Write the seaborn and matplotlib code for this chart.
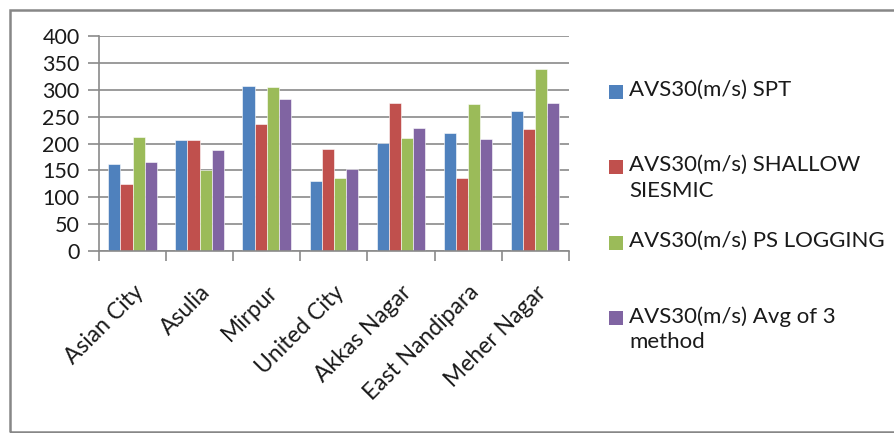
import matplotlib
matplotlib.use("Agg")
import matplotlib.pyplot as plt
from matplotlib.patches import Rectangle
import seaborn as sns
import pandas as pd
import numpy as np

categories = ["Asian City", "Asulia", "Mirpur", "United City",
              "Akkas Nagar", "East Nandipara", "Meher Nagar"]
series_names = ["AVS30(m/s) SPT", "AVS30(m/s) SHALLOW\nSIESMIC",
                "AVS30(m/s) PS LOGGING", "AVS30(m/s) Avg of 3\nmethod"]
spt = [162, 207, 307, 131, 201, 220, 260]
shallow = [125, 207, 237, 190, 275, 135, 227]
ps_logging = [212, 151, 306, 135, 210, 274, 339]
avg3 = [166, 188, 283, 152, 228, 209, 275]
colors = ["#4F81BD", "#C0504D", "#9BBB59", "#8064A2"]
y_ticks = [0, 50, 100, 150, 200, 250, 300, 350, 400]

rows = []
for name, vals in zip(series_names, [spt, shallow, ps_logging, avg3]):
    for c, v in zip(categories, vals):
        rows.append({"Location": c, "Series": name, "Value": v})
df = pd.DataFrame(rows)

sns.set_theme(style="white")
plt.rcParams["font.family"] = ["Lato", "DejaVu Sans"]

fig = plt.figure(figsize=(8.94, 4.33), dpi=100)
ax = fig.add_axes([99 / 894, 1 - 251 / 433, (568.7 - 99) / 894, (251 - 36) / 433])

sns.barplot(data=df, x="Location", y="Value", hue="Series", order=categories,
            hue_order=series_names, palette=colors, width=0.725, ax=ax,
            saturation=1, legend=False, edgecolor="white", linewidth=0.4)

ax.set_ylim(0, 400)
ax.set_xlim(-0.5, len(categories) - 0.5)
ax.set_yticks(y_ticks)
ax.set_yticklabels([str(t) for t in y_ticks], fontsize=15.5, color="#1a1a1a")
ax.set_xlabel("")
ax.set_ylabel("")
ax.yaxis.grid(True, color="#8a8a8a", linewidth=1.2)
ax.set_axisbelow(True)
for side in ["top", "right"]:
    ax.spines[side].set_visible(False)
ax.spines["left"].set_color("#8a8a8a")
ax.spines["bottom"].set_color("#8a8a8a")
ax.spines["left"].set_linewidth(1.2)
ax.spines["bottom"].set_linewidth(1.2)
ax.tick_params(axis="y", length=8, color="#8a8a8a", width=1.2, pad=6, left=True)

# x: ticks at category boundaries, labels at centers
ax.set_xticks(np.arange(-0.5, len(categories), 1.0))
ax.set_xticklabels([])
ax.set_xticks(np.arange(len(categories)), minor=True)
ax.set_xticklabels(categories, minor=True, rotation=45, ha="right",
                   rotation_mode="anchor", fontsize=16.5, color="#1a1a1a")
ax.tick_params(axis="x", which="major", length=7, color="#8a8a8a", width=1.2, bottom=True)
ax.tick_params(axis="x", which="minor", length=0, pad=22)

# Legend drawn manually (Excel-style spacing)
legend_y = [92, 167, 243, 318]
for col, name, yc in zip(colors, series_names, legend_y):
    fig.patches.append(Rectangle((609 / 894, 1 - (yc + 7) / 433), 14 / 894, 14 / 433,
                                 transform=fig.transFigure, facecolor=col,
                                 edgecolor="none"))
    fig.text(629 / 894, 1 - (yc - 12) / 433, name, fontsize=16, va="top", ha="left",
             color="#1a1a1a", linespacing=1.35)

# Outer chart frame
fig.patches.append(Rectangle((10 / 894, 1 / 433), 1.0, (432 - 10) / 433,
                             transform=fig.transFigure, facecolor="none",
                             edgecolor="#878787", linewidth=1.8))

fig.savefig("out.png", dpi=100)
